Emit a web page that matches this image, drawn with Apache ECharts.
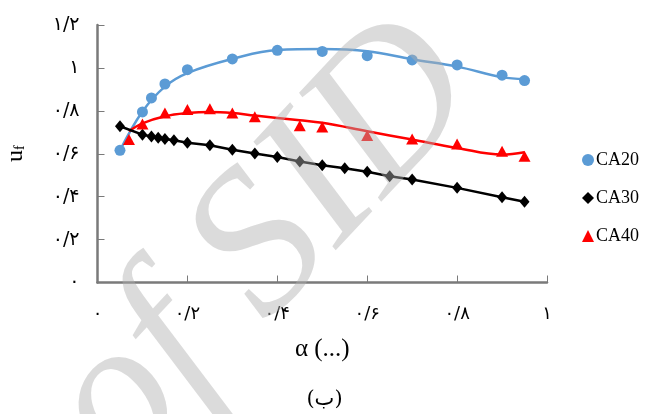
<!DOCTYPE html>
<html>
<head>
<meta charset="utf-8">
<script src="https://cdn.jsdelivr.net/npm/echarts@6/dist/echarts.min.js"></script>
<style>
  html, body { margin: 0; padding: 0; background: #fff; }
  #chart { width: 649px; height: 414px; }
</style>
</head>
<body>
<div id="chart"></div>
<script>
// Measured points (alpha, u_f)
const ca20X = [0.05, 0.1, 0.12, 0.15, 0.2, 0.3, 0.4, 0.5, 0.6, 0.7, 0.8, 0.9, 0.95];
const ca20Y = [0.616, 0.795, 0.860, 0.925, 0.992, 1.042, 1.082, 1.077, 1.057, 1.037, 1.014, 0.966, 0.941];

const ca30X = [0.05, 0.1, 0.12, 0.135, 0.15, 0.17, 0.2, 0.25, 0.3, 0.35, 0.4, 0.45, 0.5, 0.55, 0.6, 0.65, 0.7, 0.8, 0.9, 0.95];
const ca30Y = [0.728, 0.689, 0.680, 0.675, 0.669, 0.663, 0.651, 0.640, 0.619, 0.601, 0.585, 0.564, 0.546, 0.532, 0.516, 0.495, 0.480, 0.441, 0.397, 0.376];

const ca40X = [0.07, 0.1, 0.15, 0.2, 0.25, 0.3, 0.35, 0.45, 0.5, 0.6, 0.7, 0.8, 0.9, 0.95];
const ca40Y = [0.666, 0.739, 0.790, 0.806, 0.810, 0.790, 0.772, 0.731, 0.725, 0.685, 0.669, 0.646, 0.612, 0.588];

// Fitted curves drawn through the measured points
const ca20FitX = [0.05, 0.1, 0.15, 0.2, 0.3, 0.4, 0.5, 0.6, 0.7, 0.8, 0.9, 0.95];
const ca20FitY = [0.615, 0.797, 0.913, 0.976, 1.042, 1.084, 1.088, 1.078, 1.040, 1.006, 0.957, 0.948];

const ca40FitX = [0.07, 0.1, 0.15, 0.2, 0.25, 0.3, 0.35, 0.45, 0.5, 0.6, 0.7, 0.8, 0.9, 0.95];
const ca40FitY = [0.705, 0.742, 0.775, 0.790, 0.795, 0.790, 0.778, 0.756, 0.744, 0.705, 0.666, 0.627, 0.596, 0.607];

// Tick labels (Persian digits, "/" as decimal mark)
const xTickValues = [0, 0.2, 0.4, 0.6, 0.8, 1];
const xTickLabels = ['۰', '۰/۲', '۰/۴', '۰/۶', '۰/۸', '۱'];
const yTickValues = [0, 0.2, 0.4, 0.6, 0.8, 1, 1.2];
const yTickLabels = ['۰', '۰/۲', '۰/۴', '۰/۶', '۰/۸', '۱', '۱/۲'];

const seriesNames = ['CA20', 'CA30', 'CA40'];

const zip = (xs, ys) => xs.map((x, i) => [x, ys[i]]);
const tickLabel = (values, labels) => v => {
  const i = values.findIndex(t => Math.abs(t - v) < 1e-6);
  return i >= 0 ? labels[i] : '';
};

const BLUE = '#5b9bd5';
const RED = '#ff0000';
const BLACK = '#000000';
const AXIS = '#7a7a7a';
const DIGIT_FONT = 'DejaVu Sans';
const SERIF = 'Liberation Serif';

const chart = echarts.init(document.getElementById('chart'), null, { renderer: 'canvas' });

chart.setOption({
  backgroundColor: '#ffffff',
  animation: false,
  grid: { left: 97.5, right: 102, top: 25, bottom: 131.5, containLabel: false, outerBoundsMode: 'none' },
  legend: {
    orient: 'vertical',
    left: 577,
    top: 146,
    itemGap: 20,
    itemWidth: 12,
    itemHeight: 12,
    textStyle: { fontFamily: SERIF, fontSize: 18, color: '#000', padding: [0, 0, 0, -3] },
    data: [
      { name: 'CA20', icon: 'circle', itemStyle: { color: BLUE } },
      { name: 'CA30', icon: 'diamond', itemStyle: { color: BLACK } },
      { name: 'CA40', icon: 'triangle', itemStyle: { color: RED } }
    ]
  },
  xAxis: {
    type: 'value',
    min: 0,
    max: 1,
    interval: 0.2,
    name: 'α (...)',
    nameLocation: 'middle',
    nameGap: 54,
    nameTextStyle: { fontFamily: SERIF, fontSize: 25, color: '#000' },
    axisLine: { show: true, lineStyle: { color: AXIS, width: 2.5 } },
    axisTick: { show: true, inside: true, length: 7, lineStyle: { color: AXIS, width: 1 } },
    axisLabel: {
      margin: 23,
      fontFamily: DIGIT_FONT,
      fontSize: 18,
      color: '#000',
      formatter: tickLabel(xTickValues, xTickLabels)
    },
    splitLine: { show: false }
  },
  yAxis: {
    type: 'value',
    min: 0,
    max: 1.2,
    interval: 0.2,
    name: '{u|u}{f|f}',
    nameLocation: 'middle',
    nameGap: 70,
    nameRotate: 90,
    nameTextStyle: {
      color: '#000',
      rich: {
        u: { fontFamily: SERIF, fontSize: 24, color: '#000' },
        f: { fontFamily: SERIF, fontSize: 14, color: '#000', verticalAlign: 'bottom', padding: [10, 0, 0, 0] }
      }
    },
    axisLine: { show: true, lineStyle: { color: AXIS, width: 2.5 } },
    axisTick: { show: true, inside: true, length: 7, lineStyle: { color: AXIS, width: 1 } },
    axisLabel: {
      margin: 18,
      fontFamily: DIGIT_FONT,
      fontSize: 19,
      color: '#000',
      formatter: tickLabel(yTickValues, yTickLabels)
    },
    splitLine: { show: false }
  },
  series: [
    {
      name: 'CA20 fit',
      type: 'line',
      data: zip(ca20FitX, ca20FitY),
      smooth: 0.4,
      showSymbol: false,
      symbol: 'none',
      lineStyle: { color: BLUE, width: 2.5 },
      z: 2
    },
    {
      name: 'CA40 fit',
      type: 'line',
      data: zip(ca40FitX, ca40FitY),
      smooth: 0.4,
      showSymbol: false,
      symbol: 'none',
      lineStyle: { color: RED, width: 2.5 },
      z: 2
    },
    {
      name: seriesNames[1],
      type: 'line',
      data: zip(ca30X, ca30Y),
      symbol: 'diamond',
      symbolSize: [10, 12],
      showAllSymbol: true,
      itemStyle: { color: BLACK },
      lineStyle: { color: BLACK, width: 2.5 },
      z: 3
    },
    {
      name: seriesNames[0],
      type: 'scatter',
      data: zip(ca20X, ca20Y),
      symbol: 'circle',
      symbolSize: 11,
      itemStyle: { color: BLUE, opacity: 1 },
      z: 4
    },
    {
      name: seriesNames[2],
      type: 'scatter',
      data: zip(ca40X, ca40Y),
      symbol: 'triangle',
      symbolSize: [12, 11],
      itemStyle: { color: RED, opacity: 1 },
      z: 4
    }
  ],
  graphic: [
    {
      type: 'text',
      left: 'center',
      top: 389,
      style: { text: '(ب)', font: '21px "DejaVu Serif", "DejaVu Sans"', fill: '#000' },
      z: 10
    },
    {
      type: 'text',
      x: 158,
      y: 512,
      rotation: 0.82,
      style: {
        text: 'of SID',
        font: 'italic 205px "Liberation Serif"',
        fill: 'rgba(175,175,175,0.45)',
        align: 'left',
        verticalAlign: 'bottom'
      },
      z: 100
    }
  ]
});
</script>
</body>
</html>
